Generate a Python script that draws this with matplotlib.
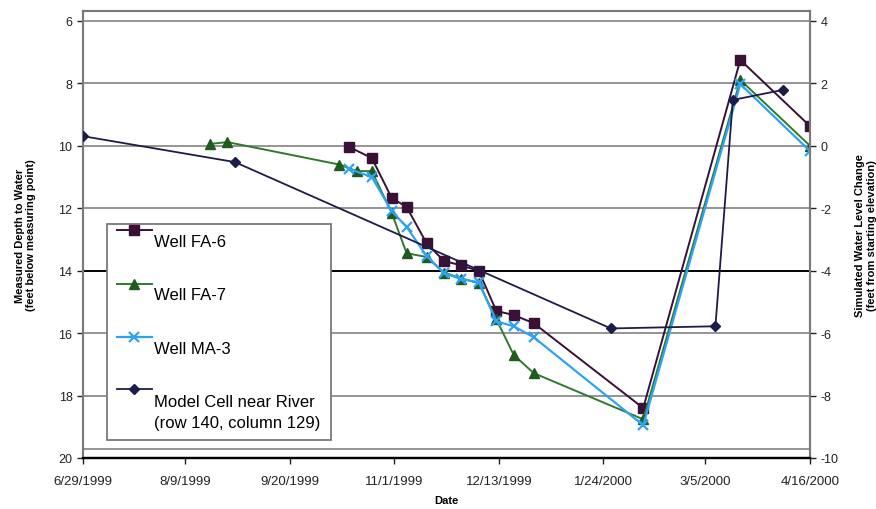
import matplotlib
matplotlib.use("Agg")
import matplotlib.pyplot as plt
import matplotlib.dates as mdates
from matplotlib.legend_handler import HandlerLine2D
import numpy as np
import datetime as dt

plt.rcParams['font.family'] = ['Liberation Sans', 'DejaVu Sans']

# ---------------- data ----------------
fa6_dates = ["1999-10-14", "1999-10-23", "1999-10-31", "1999-11-06", "1999-11-14",
             "1999-11-21", "1999-11-28", "1999-12-05", "1999-12-12", "1999-12-19",
             "1999-12-27", "2000-02-09", "2000-03-19", "2000-04-16"]
fa6_depth = [10.04, 10.39, 11.67, 11.96, 13.12, 13.69, 13.83, 14.01, 15.29, 15.42,
             15.68, 18.40, 7.25, 9.37]

fa7_dates = ["1999-08-19", "1999-08-26", "1999-10-10", "1999-10-17", "1999-10-23",
             "1999-10-31", "1999-11-06", "1999-11-14", "1999-11-21", "1999-11-28",
             "1999-12-05", "1999-12-12", "1999-12-19", "1999-12-27", "2000-02-09",
             "2000-03-19", "2000-04-16"]
fa7_depth = [9.94, 9.88, 10.60, 10.81, 10.81, 12.15, 13.44, 13.56, 14.06, 14.25,
             14.40, 15.55, 16.70, 17.28, 18.76, 7.89, 10.00]

ma3_dates = ["1999-10-14", "1999-10-23", "1999-10-31", "1999-11-06", "1999-11-14",
             "1999-11-21", "1999-11-28", "1999-12-05", "1999-12-12", "1999-12-19",
             "1999-12-27", "2000-02-09", "2000-03-19", "2000-04-16"]
ma3_depth = [10.74, 11.00, 12.09, 12.60, 13.53, 14.08, 14.27, 14.37, 15.62, 15.78,
             16.13, 18.95, 8.02, 10.17]

model_dates = ["1999-06-29", "1999-08-29", "2000-01-27", "2000-03-09", "2000-03-16",
               "2000-04-05"]
model_change = [0.31, -0.52, -5.85, -5.78, 1.47, 1.79]

xtick_dates = ["1999-06-29", "1999-08-09", "1999-09-20", "1999-11-01", "1999-12-13",
               "2000-01-24", "2000-03-05", "2000-04-16"]
xtick_labels = ["6/29/1999", "8/9/1999", "9/20/1999", "11/1/1999", "12/13/1999",
                "1/24/2000", "3/5/2000", "4/16/2000"]
left_ticks = [6, 8, 10, 12, 14, 16, 18, 20]
right_ticks = [4, 2, 0, -2, -4, -6, -8, -10]

labels = ["Well FA-6", "Well FA-7", "Well MA-3",
          "Model Cell near River\n(row 140, column 129)"]

# ---------------- helpers ----------------
def to_num(ds):
    return mdates.date2num([dt.datetime.strptime(d, "%Y-%m-%d") for d in ds])


class RaisedHandler(HandlerLine2D):
    """Legend handle drawn above the centre of its label (Excel style)."""
    def __init__(self, raise_pts=0, **kw):
        super().__init__(**kw)
        self.raise_pts = raise_pts

    def create_artists(self, legend, orig_handle, xdescent, ydescent, width,
                       height, fontsize, trans):
        return super().create_artists(legend, orig_handle, xdescent,
                                      ydescent - 2 * self.raise_pts, width,
                                      height, fontsize, trans)


c_fa6 = "#3a1036"
c_fa7 = "#2f7a2f"
c_ma3 = "#2ea3f2"
c_mod = "#1c1c4a"

fig = plt.figure(figsize=(8.76, 5.10), dpi=100)
ax = fig.add_axes([0.0947, 0.10, 0.830, 0.8765])
ax2 = ax.twinx()

top_depth = 5.68
ax.set_ylim(20, top_depth)
ax2.set_ylim(-10, 10 - top_depth)
xmin, xmax = to_num(["1999-06-29", "2000-04-16"])
ax.set_xlim(xmin, xmax)

# grid lines
for v in left_ticks[:-1]:
    ax.axhline(v, color="#8c8c8c" if v != 14 else "#000000",
               lw=1.3 if v != 14 else 1.4, zorder=0)
ax.axhline(19.72, color="#8c8c8c", lw=1.3, zorder=0)

l1, = ax.plot(to_num(fa6_dates), fa6_depth, color=c_fa6, lw=1.4, marker="s",
              ms=6.5, mfc=c_fa6, mec=c_fa6, label=labels[0], zorder=3)
l2, = ax.plot(to_num(fa7_dates), fa7_depth, color=c_fa7, lw=1.4, marker="^",
              ms=6.5, mfc="#1f5a1f", mec="#1f5a1f", label=labels[1], zorder=3)
l3, = ax.plot(to_num(ma3_dates), ma3_depth, color=c_ma3, lw=1.6, marker="x",
              ms=7, mew=1.6, label=labels[2], zorder=4)
l4, = ax2.plot(to_num(model_dates), model_change, color=c_mod, lw=1.3, marker="D",
               ms=5, mfc=c_mod, mec=c_mod, label=labels[3], zorder=5)

# axes styling
ax.set_yticks(left_ticks)
ax.set_yticklabels([str(v) for v in left_ticks], fontsize=9)
ax2.set_yticks(right_ticks)
ax2.set_yticklabels([str(v) for v in right_ticks], fontsize=9)
ax.set_xticks(to_num(xtick_dates))
ax.set_xticklabels(xtick_labels, fontsize=9.5)

for a in (ax, ax2):
    for s in ("top", "left", "right"):
        a.spines[s].set_color("#7a7a7a")
        a.spines[s].set_linewidth(1.5)
    a.spines["bottom"].set_color("#000000")
    a.spines["bottom"].set_linewidth(1.6)
ax.tick_params(axis="both", direction="out", length=4, width=1, colors="#222222")
ax.tick_params(axis="x", pad=8)
ax2.tick_params(axis="y", direction="out", length=4, width=1, colors="#222222")

ax.set_xlabel("Date", fontsize=8, fontweight="bold", labelpad=6)
ax.set_ylabel("Measured Depth to Water\n(feet below measuring point)",
              fontsize=8, fontweight="bold", labelpad=16)
ax2.set_ylabel("Simulated Water Level Change\n(feet from starting elevation)",
               fontsize=8, fontweight="bold", labelpad=12, rotation=90)

leg = ax.legend(handles=[l1, l2, l3, l4], loc="upper left",
                bbox_to_anchor=(0.033, 0.5235), fontsize=12, frameon=True,
                fancybox=False, edgecolor="#7a7a7a", framealpha=1,
                labelspacing=2.3, handlelength=2.1, borderpad=0.6,
                handletextpad=0.15, borderaxespad=0,
                handler_map={l1: RaisedHandler(7), l2: RaisedHandler(7),
                             l3: RaisedHandler(7), l4: RaisedHandler(17)})
leg.get_texts()[3].set_linespacing(1.5)
leg.get_frame().set_linewidth(1.3)
leg.set_zorder(10)

fig.savefig("out.png", dpi=100)
